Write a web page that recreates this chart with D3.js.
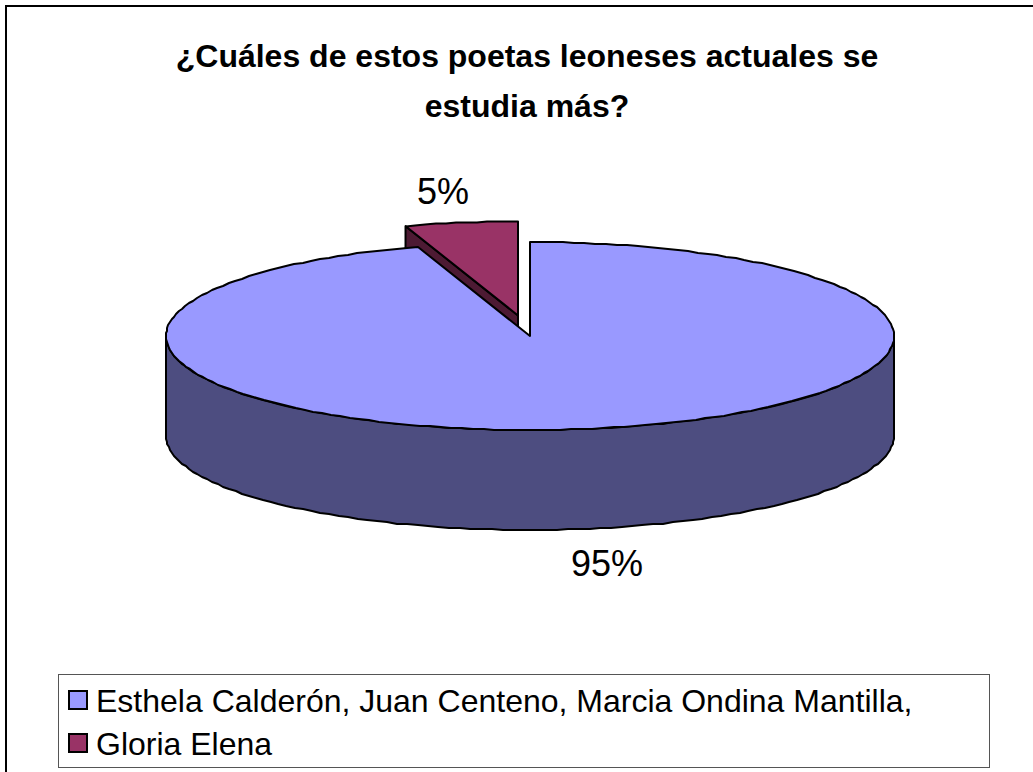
<!DOCTYPE html>
<html>
<head>
<meta charset="utf-8">
<script src="https://cdnjs.cloudflare.com/ajax/libs/d3/7.8.5/d3.min.js"></script>
<style>
  html, body { margin: 0; padding: 0; background: #fff; overflow: hidden; }
  svg { display: block; }
  text { font-family: "Liberation Sans", Arial, sans-serif; fill: #000; }
</style>
</head>
<body>
<div id="chart"></div>
<script>
const titleLines = ["¿Cuáles de estos poetas leoneses actuales se", "estudia más?"];
const poets = ["Esthela Calderón, Juan Centeno, Marcia Ondina Mantilla,", "Gloria Elena"];
const shares = [95, 5];
const topColors = ["#9999ff", "#993366"];
const sideColors = ["#4d4d80", "#4d1a33"];

const width = 1033, height = 772;
const centerX = 530, centerY = 336;
const radiusX = 364, radiusY = 94;
const depth = 100;
const explode = { x: -12, y: -20.5 };

const svg = d3.select("#chart").append("svg")
    .attr("width", width)
    .attr("height", height)
    .attr("viewBox", `0 0 ${width} ${height}`);

// chart frame runs off the right and bottom of the picture
svg.append("rect")
    .attr("x", 6).attr("y", 6)
    .attr("width", 1060).attr("height", 790)
    .attr("fill", "#fff").attr("stroke", "#000").attr("stroke-width", 2);

svg.append("g").selectAll("text")
    .data(titleLines)
    .join("text")
        .attr("x", 527)
        .attr("y", (d, i) => 67 + i * 50)
        .attr("text-anchor", "middle")
        .style("font-size", "32px")
        .style("font-weight", 700)
        .text(d => d);

const slices = d3.pie().value(d => d).sort(null)(shares);

// flat pie projection: angle runs clockwise from 12 o'clock
const px = a => Math.sin(a) * radiusX;
const py = a => -Math.cos(a) * radiusY;
const line = d3.line();

// rounded to whole pixels, the rim in the picture is a rough polygon
const arcPoints = (a0, a1, dy = 0) => {
    const n = Math.max(2, Math.ceil(Math.abs(a1 - a0) / 0.03));
    return d3.range(n + 1).map(i => {
        const a = a0 + (a1 - a0) * i / n;
        return [Math.round(px(a)), Math.round(py(a)) + dy];
    });
};

const drawSlice = (slice, i) => {
    const ox = centerX + (i === 1 ? explode.x : 0);
    const oy = centerY + (i === 1 ? explode.y : 0);
    const g = svg.append("g").attr("transform", `translate(${ox}, ${oy})`);
    const a0 = slice.startAngle, a1 = slice.endAngle;

    // cut face seen on the left side of the small slice
    if (i === 1) {
        g.append("path")
            .attr("d", line([[0, 0], [px(a0), py(a0)], [px(a0), py(a0) + depth], [0, depth]]) + "Z")
            .attr("fill", sideColors[i]).attr("stroke", "#000").attr("stroke-width", 2)
            .attr("stroke-linejoin", "round");
    }
    // outer wall, only the part facing the viewer
    const frontStart = Math.max(a0, Math.PI / 2);
    const frontEnd = Math.min(a1, Math.PI * 1.5);
    if (frontStart < frontEnd) {
        const top = arcPoints(frontStart, frontEnd);
        const bottom = arcPoints(frontEnd, frontStart, depth);
        g.append("path")
            .attr("d", line(top.concat(bottom)) + "Z")
            .attr("fill", sideColors[i]).attr("stroke", "#000").attr("stroke-width", 2)
            .attr("stroke-linejoin", "round");
    }
    g.append("path")
        .attr("d", line([[0, 0]].concat(arcPoints(a0, a1))) + "Z")
        .attr("fill", topColors[i]).attr("stroke", "#000").attr("stroke-width", 2)
        .attr("stroke-linejoin", "round");
};

// small slice sits behind the large one
drawSlice(slices[1], 1);
drawSlice(slices[0], 0);

const labelPos = [[607, 576], [443, 204]];
svg.append("g").selectAll("text")
    .data(shares)
    .join("text")
        .attr("x", (d, i) => labelPos[i][0])
        .attr("y", (d, i) => labelPos[i][1])
        .attr("text-anchor", "middle")
        .style("font-size", "36px")
        .text(d => `${d}%`);

svg.append("rect")
    .attr("x", 58.5).attr("y", 674.5)
    .attr("width", 931).attr("height", 93)
    .attr("fill", "#fff").attr("stroke", "#555").attr("stroke-width", 1);

const legend = svg.append("g").selectAll("g")
    .data(poets)
    .join("g")
        .attr("transform", (d, i) => `translate(69, ${691 + i * 43})`);
legend.append("rect")
    .attr("width", 18).attr("height", 18)
    .attr("fill", (d, i) => topColors[i])
    .attr("stroke", "#000").attr("stroke-width", 2);
legend.append("text")
    .attr("x", 27)
    .attr("y", 21)
    .style("font-size", "32px")
    .text(d => d);
</script>
</body>
</html>
